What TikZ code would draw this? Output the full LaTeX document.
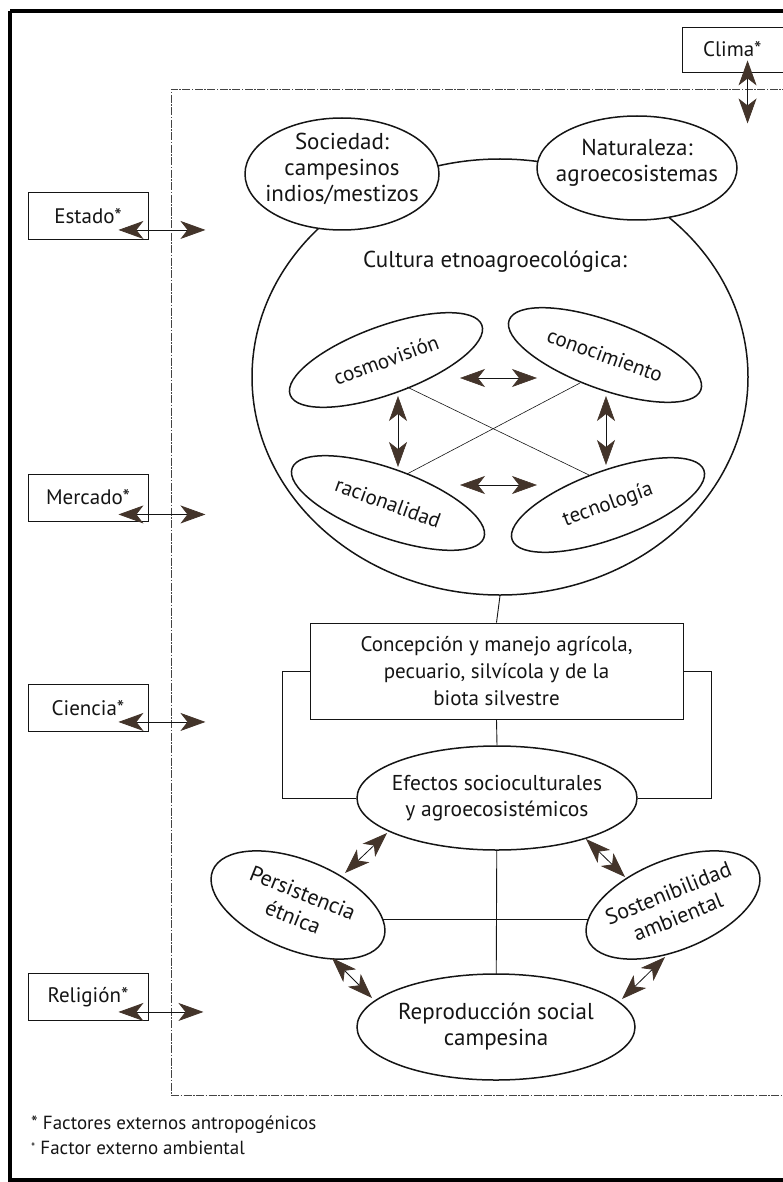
\documentclass[tikz,border=0pt]{standalone}
\usepackage{fontspec}
\setmainfont{PT Sans}
\usetikzlibrary{shapes.geometric,arrows.meta,calc,backgrounds}
\definecolor{ink}{HTML}{151515}
\definecolor{tipbrown}{HTML}{43342A}
\definecolor{boxline}{HTML}{444444}

\newcommand{\sz}[1]{\fontsize{#1}{26}\selectfont}

\begin{document}
\begin{tikzpicture}[x=1pt,y=-1pt,
  every node/.style={text=ink, font=\sz{22}, align=center, inner sep=0pt},
  oval/.style={ellipse, draw=ink, line width=1.5pt, fill=white},
  factor/.style={rectangle, draw=ink, line width=0.9pt, fill=white,
                 minimum width=120pt, minimum height=47pt, font=\sz{21}},
  link/.style={draw=ink, line width=0.9pt},
  fine link/.style={draw=ink, line width=0.6pt},
  both/.style={draw=ink, line width=0.8pt,
    {Stealth[length=25pt,width=18pt,inset=7pt,color=tipbrown]}-{Stealth[length=25pt,width=18pt,inset=7pt,color=tipbrown]}},
  foot/.style={font=\fontsize{19}{22}\selectfont, anchor=west, align=left},
]
\useasboundingbox (0,0) rectangle (782,1182);

% outer frame and the dashed system boundary (both run off the right edge)
\draw[line width=3.5pt, draw=black] (10,11) -- (840,11);
\draw[line width=3.5pt, draw=black] (10,11) -- (10,1180) -- (840,1180);
\draw[boxline, line width=0.9pt, dash pattern=on 8pt off 1.5pt on 1.5pt off 1.5pt]
  (840,89) -- (171,89) -- (171,1095) -- (840,1095);

% external factors
\node[factor, minimum width=140pt, minimum height=45pt, text width=140pt,
      align=left] (clima) at (752,49.5) {\hspace*{21pt}Clima*};
\node[factor] (estado)   at (88,216)  {Estado*};
\node[factor] (mercado)  at (88,497.5)  {Mercado*};
\node[factor] (ciencia)  at (88,708)    {Ciencia*};
\node[factor] (religion) at (88,997)    {Religión*};

\coordinate (climaOut)   at ($(clima.south west)+(66,-12)$);
\coordinate (climaIn)    at ($(clima.south west)+(66,51)$);
\coordinate (estadoIn)   at ($(estado.south east)+(57,-10)$);
\coordinate (mercadoIn)  at ($(mercado.south east)+(57,-7)$);
\coordinate (cienciaIn)  at ($(ciencia.south east)+(57,-10)$);
\coordinate (religionIn) at ($(religion.south east)+(55,-9)$);

\draw[both] (climaOut) -- (climaIn);
\draw[both] ($(estado.south east)+(-30,-10)$) -- (estadoIn);
\draw[both] ($(mercado.south east)+(-30,-7)$) -- (mercadoIn);
\draw[both] ($(ciencia.south east)+(-30,-10)$) -- (cienciaIn);
\draw[both] ($(religion.south east)+(-30,-9)$) -- (religionIn);

% ethno-agroecological culture
\node[oval, fill=none, minimum width=496pt, minimum height=436pt] (big) at (500,377) {};
\node[font=\sz{23}] (cult) at (495,262) {Cultura etnoagroecológica:};
\node[oval, minimum width=194pt, minimum height=112pt,
      label={[font=\sz{23}, yshift=5pt]center:Sociedad:\\campesinos\\indios/mestizos}] (soc) at (342,174) {};
\node[oval, minimum width=200pt, minimum height=104pt,
      label={[font=\sz{23}, yshift=5pt]center:Naturaleza:\\agroecosistemas}] (nat) at (637,168) {};

\node[oval, rotate=20, minimum width=204pt, minimum height=68pt,
      label={[rotate=20, font=\sz{21}]center:cosmovisión}] (cosmo) at (386,360) {};
\node[oval, rotate=-20, minimum width=204pt, minimum height=68pt,
      label={[rotate=-20, font=\sz{21}]center:conocimiento}] (cono) at (605,355) {};
\node[oval, rotate=-20, minimum width=204pt, minimum height=68pt,
      label={[rotate=-20, font=\sz{21}]center:racionalidad}] (raci) at (388,503) {};
\node[oval, rotate=20, minimum width=204pt, minimum height=68pt,
      label={[rotate=20, font=\sz{21}]center:tecnología}] (tecno) at (608,505) {};

\draw[fine link] ($(cosmo.center)+(21,27)$) -- ($(tecno.center)+(-19,-30)$);
\draw[fine link] ($(cono.center)+(-25,28)$) -- ($(raci.center)+(19,-29)$);
\draw[both, line width=0.6pt] ($(cosmo.center)+(74,18)$) -- ($(cono.center)+(-68,23)$);
\draw[both, line width=0.6pt] ($(raci.center)+(72,-18)$) -- ($(tecno.center)+(-71,-20)$);
\draw[both, line width=0.6pt] ($(cosmo.center)+(12,36)$) -- ($(raci.center)+(10,-36)$);
\draw[both, line width=0.6pt] ($(cono.center)+(1,41)$) -- ($(tecno.center)+(-2,-40)$);

% management and its effects
\node[rectangle, draw=ink, line width=0.9pt, fill=white, font=\fontsize{21}{27}\selectfont,
      minimum width=373pt, minimum height=96pt] (conc) at (496.5,671)
      {Concepción y manejo agrícola,\\pecuario, silvícola y de la\\biota silvestre};
\node[oval, minimum width=280pt, minimum height=104pt,
      label={[font=\sz{21.5}]center:Efectos socioculturales\\y agroecosistémicos}] (efe) at (497,798) {};

\draw[link] (big.south) -- (conc.north);
\draw[link] (conc.south) -- (efe.north);
\draw[link] (conc.west) -- ++(-27,0) |- (efe.west);
\draw[link] (conc.east) -- ++(28,0) |- (efe.east);

% outcomes
\node[oval, rotate=-22, minimum width=184pt, minimum height=90pt,
      label={[rotate=-22]center:Persistencia\\étnica}] (pers) at (298,905) {};
\node[oval, rotate=22, minimum width=184pt, minimum height=90pt,
      label={[rotate=22]center:Sostenibilidad\\ambiental}] (sost) at (673,905) {};
\node[oval, minimum width=278pt, minimum height=106pt,
      label={[font=\sz{23}]center:Reproducción social\\campesina}] (repro) at (496,1027) {};

\begin{pgfonlayer}{background}
  \draw[link] ($(pers.center)+(0,14)$) -- ($(sost.center)+(0,14)$);
  \draw[link] (efe.center) -- (repro.center);
\end{pgfonlayer}

\draw[both] ($(efe.center)+(-110,35)$) -- ($(pers.center)+(47,-32)$);
\draw[both] ($(efe.center)+(89,41)$) -- ($(sost.center)+(-48,-28)$);
\draw[both] ($(pers.center)+(34,53)$) -- ($(repro.center)+(-124,-29)$);
\draw[both] ($(sost.center)+(-8,52)$) -- ($(repro.center)+(126,-28)$);

% notes
\node[foot] (note1) at (31,1125) {* Factores externos antropogénicos};
\node[foot] (note2) at (31,1148) {\raisebox{3pt}{\fontsize{12}{12}\selectfont*} Factor externo ambiental};
\end{tikzpicture}
\end{document}
